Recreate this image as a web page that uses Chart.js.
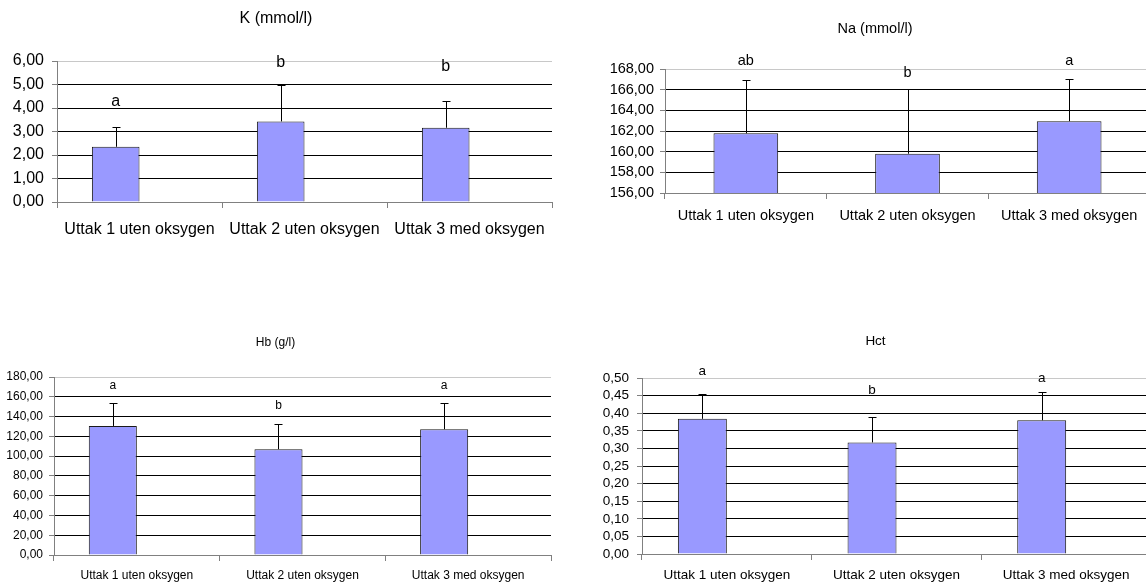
<!DOCTYPE html>
<html lang="no">
<head>
<meta charset="UTF-8">
<title>Blodverdier</title>
<script src="https://cdn.jsdelivr.net/npm/chart.js"></script>
<style>
  html, body { margin: 0; padding: 0; background: #fff; overflow: hidden; width: 1146px; height: 583px; }
  canvas { position: absolute; }
</style>
</head>
<body>
<canvas id="kChart"></canvas>
<canvas id="naChart"></canvas>
<canvas id="hbChart"></canvas>
<canvas id="hctChart"></canvas>

<script>
// kategorier (felles for alle fire diagram)
const categories = ['Uttak 1 uten oksygen', 'Uttak 2 uten oksygen', 'Uttak 3 med oksygen'];

// K (mmol/l)
const kMean = [2.35, 3.43, 3.16];
const kSd = [0.86, 1.57, 1.15];
const kLetters = ['a', 'b', 'b'];
const kLetterAt = [4.26, 5.93, 5.76];

// Na (mmol/l)
const naMean = [161.78, 159.80, 162.95];
const naSd = [5.15, 6.22, 4.08];
const naLetters = ['ab', 'b', 'a'];
const naLetterAt = [168.74, 167.61, 168.74];

// Hb (g/l)
const hbMean = [130.5, 107.0, 127.2];
const hbSd = [23.2, 25.2, 26.5];
const hbLetters = ['a', 'b', 'a'];
const hbLetterAt = [171.6, 150.7, 171.6];

// Hct
const hctMean = [0.384, 0.317, 0.380];
const hctSd = [0.071, 0.071, 0.079];
const hctLetters = ['a', 'b', 'a'];
const hctLetterAt = [0.519, 0.464, 0.500];

const FONT = 'Liberation Sans, Arial, sans-serif';

// feilfelt (kun opp) og bokstaver over søylene
const extras = {
    id: 'extras',
    afterDatasetsDraw(chart, args, opts) {
        const ctx = chart.ctx;
        const y = chart.scales.y;
        const bars = chart.getDatasetMeta(0).data;
        ctx.save();
        ctx.strokeStyle = '#000';
        ctx.lineWidth = 1;
        ctx.fillStyle = '#000';
        ctx.font = opts.fontSize + 'px ' + FONT;
        ctx.textAlign = 'center';
        ctx.textBaseline = 'middle';
        bars.forEach((bar, i) => {
            const x = Math.round(bar.x) + 0.5;
            const top = Math.round(y.getPixelForValue(opts.mean[i] + opts.sd[i])) + 0.5;
            ctx.beginPath();
            ctx.moveTo(x, bar.y);
            ctx.lineTo(x, top);
            ctx.moveTo(x - 4, top);
            ctx.lineTo(x + 4, top);
            ctx.stroke();
            ctx.fillText(opts.letters[i], bar.x, y.getPixelForValue(opts.letterAt[i]));
        });
        ctx.restore();
    }
};

function makeChart(id, box, s) {
    const canvas = document.getElementById(id);
    canvas.width = box.width;
    canvas.height = box.height;
    canvas.style.left = box.left + 'px';
    canvas.style.top = box.top + 'px';

    const titlePadTop = box.titleY - box.top - 0.6 * s.titleSize;
    const titlePadBottom = box.plotTop - box.top - titlePadTop - 1.2 * s.titleSize;

    const datasets = [{
        data: s.mean,
        backgroundColor: '#9999ff',
        borderColor: '#1a1a1a',
        borderWidth: 1,
        barPercentage: 1,
        categoryPercentage: s.catPct
    }];
    if (s.twoSlots) {
        // tom serie nr. 2 -> søylene står i venstre halvdel av hver kategori
        datasets.push({ data: [null, null, null], barPercentage: 1, categoryPercentage: s.catPct });
    }

    return new Chart(canvas.getContext('2d'), {
        type: 'bar',
        data: { labels: categories, datasets: datasets },
        options: {
            responsive: false,
            animation: false,
            layout: { padding: { left: 0, top: 0, bottom: 0, right: box.left + box.width - box.plotRight } },
            plugins: {
                legend: { display: false },
                tooltip: { enabled: false },
                title: {
                    display: true,
                    text: s.title,
                    color: '#000',
                    font: { family: FONT, size: s.titleSize, weight: 'normal', lineHeight: 1.2 },
                    padding: { top: titlePadTop, bottom: titlePadBottom }
                },
                extras: { mean: s.mean, sd: s.sd, letters: s.letters, letterAt: s.letterAt, fontSize: s.letterSize }
            },
            scales: {
                x: {
                    ticks: { color: '#000', font: { family: FONT, size: s.labelSize }, padding: s.xPad, maxRotation: 0, autoSkip: false },
                    grid: { offset: true, drawOnChartArea: false, tickLength: 6, color: '#808080' },
                    border: { color: '#808080' },
                    afterFit: sc => { sc.height = box.top + box.height - box.plotBottom; }
                },
                y: {
                    min: s.min,
                    max: s.max,
                    ticks: {
                        stepSize: s.step,
                        autoSkip: false,
                        color: '#000',
                        font: { family: FONT, size: s.tickSize },
                        padding: s.yPad,
                        callback: v => Number(v).toFixed(2).replace('.', ',')
                    },
                    grid: {
                        color: c => (c.tick && c.tick.value > s.max - s.step / 2) ? '#c8c8c8' : '#000',
                        tickLength: 5,
                        tickColor: '#808080'
                    },
                    border: { color: '#808080' },
                    afterFit: sc => { sc.width = box.plotLeft - box.left; }
                }
            }
        },
        plugins: [extras]
    });
}

makeChart('kChart',
    { left: 0, top: 0, width: 560, height: 250, plotLeft: 57, plotRight: 552, plotTop: 61, plotBottom: 202, titleY: 18.5 },
    { title: 'K (mmol/l)', titleSize: 16, labelSize: 16, tickSize: 16, letterSize: 16, xPad: 12, yPad: 8,
      min: 0, max: 6, step: 1, catPct: 0.577, twoSlots: true,
      mean: kMean, sd: kSd, letters: kLetters, letterAt: kLetterAt });

makeChart('naChart',
    { left: 600, top: 0, width: 554, height: 250, plotLeft: 665, plotRight: 1150, plotTop: 69, plotBottom: 193, titleY: 29 },
    { title: 'Na (mmol/l)', titleSize: 14.5, labelSize: 14.5, tickSize: 14.5, letterSize: 14.5, xPad: 8, yPad: 6,
      min: 156, max: 168, step: 2, catPct: 0.40, twoSlots: false,
      mean: naMean, sd: naSd, letters: naLetters, letterAt: naLetterAt });

makeChart('hbChart',
    { left: 0, top: 320, width: 560, height: 263, plotLeft: 54, plotRight: 551, plotTop: 377, plotBottom: 555, titleY: 343 },
    { title: 'Hb (g/l)', titleSize: 12, labelSize: 12, tickSize: 12, letterSize: 12, xPad: 7, yPad: 6,
      min: 0, max: 180, step: 20, catPct: 0.58, twoSlots: true,
      mean: hbMean, sd: hbSd, letters: hbLetters, letterAt: hbLetterAt });

makeChart('hctChart',
    { left: 600, top: 320, width: 554, height: 263, plotLeft: 642, plotRight: 1151, plotTop: 378, plotBottom: 554, titleY: 341 },
    { title: 'Hct', titleSize: 13.5, labelSize: 13.5, tickSize: 13.5, letterSize: 13.5, xPad: 7, yPad: 8,
      min: 0, max: 0.5, step: 0.05, catPct: 0.577, twoSlots: true,
      mean: hctMean, sd: hctSd, letters: hctLetters, letterAt: hctLetterAt });
</script>
</body>
</html>
